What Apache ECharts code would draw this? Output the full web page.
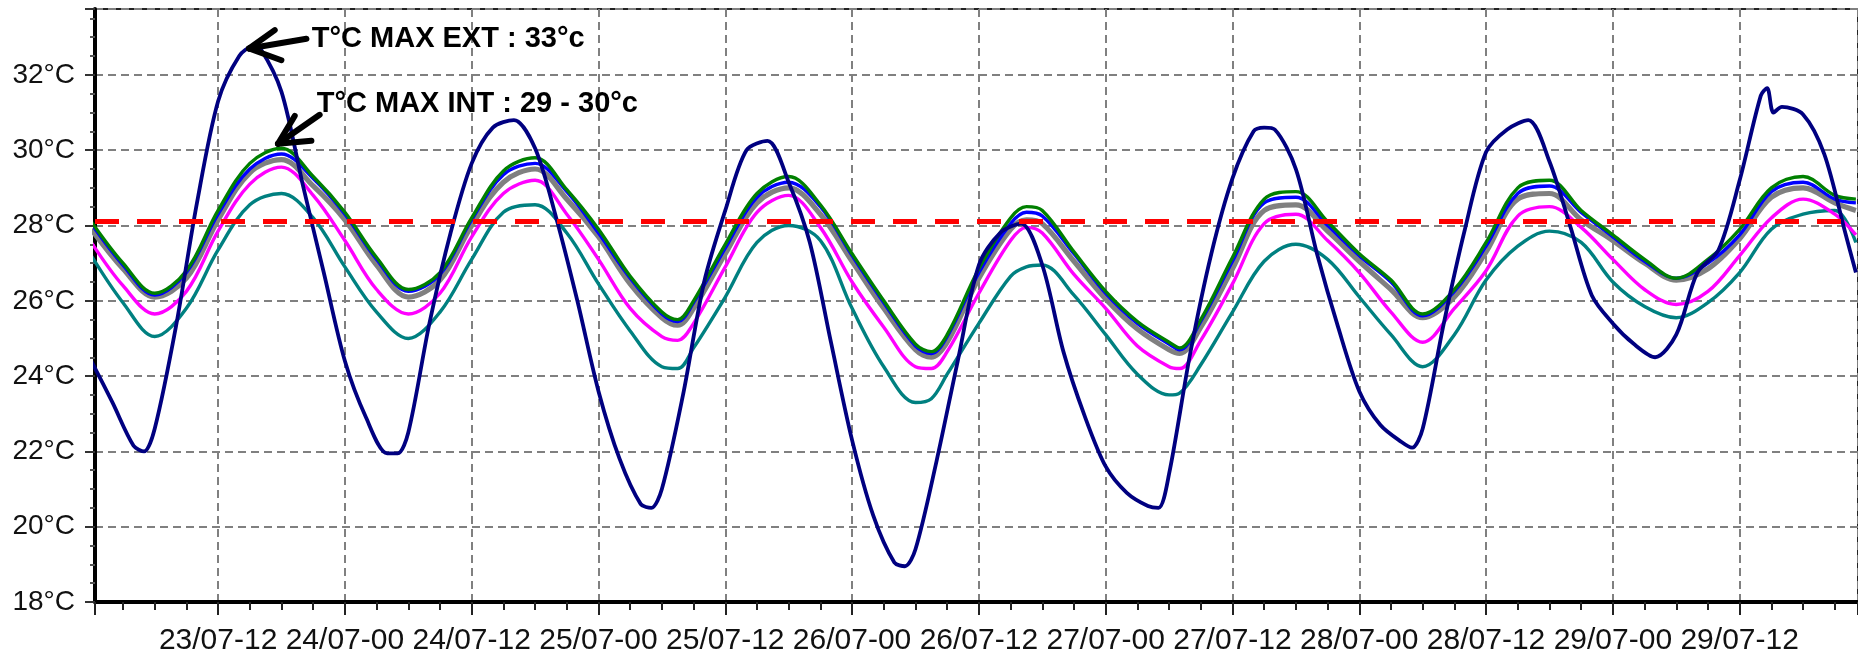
<!DOCTYPE html>
<html>
<head>
<meta charset="utf-8">
<script src="https://cdn.jsdelivr.net/npm/echarts@6/dist/echarts.min.js"></script>
<style>
html,body{margin:0;padding:0;background:#fff;}
#chart{width:1858px;height:658px;}
</style>
</head>
<body>
<div id="chart"></div>
<script>
// ---- tick labels ----
const xTickLabels = ['23/07-12','24/07-00','24/07-12','25/07-00','25/07-12','26/07-00','26/07-12',
  '27/07-00','27/07-12','28/07-00','28/07-12','29/07-00','29/07-12'];
const yUnit = '°C';

// ---- exterior temperature (hours since 23/07 00:00) ----
const extHours = [0,2,4,5,6,8,10,12,14,15.3,16,18,20,22,24,26,28,29,30,32,34,36,38,40,42,44,46,48,50,52,53,54,56,58,60,62,64,66,68,70,72,74,76,77,78,80,82,84,86,88,90,92,94,96,98,100,101,102,104,106,108,110,111,112,114,116,118,120,122,124,125,126,128,130,132,134,136,138,140,142,144,146,148,150,152,154,156,158,158.6,159.2,160,162,164,166,167];
const extTemp = [24.4,23.3,22.15,22.0,22.6,25.3,28.6,31.3,32.5,32.75,32.7,31.55,29.1,26.75,24.4,22.9,21.95,21.95,22.5,25.4,27.8,29.65,30.6,30.8,30.05,28.2,26.0,23.6,21.8,20.6,20.5,21.0,23.5,26.5,28.4,30.0,30.25,29.15,27.55,24.9,22.3,20.3,19.05,18.95,19.4,21.75,24.4,26.95,27.8,28.05,26.95,24.65,22.95,21.6,20.9,20.55,20.5,21.4,24.6,27.25,29.25,30.5,30.6,30.55,29.5,27.25,25.3,23.6,22.7,22.25,22.1,22.6,25.4,27.9,29.95,30.55,30.8,29.7,27.95,26.15,25.4,24.85,24.5,25.1,26.75,27.35,29.2,31.45,31.65,31.0,31.15,30.95,29.9,27.8,26.75];

// ---- interior sensors ----
const intHours = [0,3,6,9,12,15,18,21,24,27,30,33,36,39,42,45,48,51,54,55.5,57,60,63,66,69,72,75,78,79.5,81,84,87,88.5,90,93,96,99,102,103,105,108,111,114,117,120,123,126,129,132,135,138,141,144,147,150,153,156,159,162,165,167];
const greenTemp = [28.1,27.0,26.2,26.8,28.4,29.65,30.05,29.3,28.35,27.15,26.3,26.75,28.2,29.45,29.8,28.95,27.9,26.65,25.7,25.5,26.0,27.5,28.85,29.3,28.55,27.25,26.0,24.85,24.65,25.1,26.85,28.2,28.5,28.4,27.3,26.25,25.45,24.9,24.75,25.5,27.15,28.7,28.9,28.1,27.25,26.55,25.65,26.3,27.55,29.0,29.2,28.4,27.75,27.1,26.6,27.1,27.9,29.0,29.3,28.8,28.7];
const blueTemp = [28.05,26.95,26.15,26.75,28.3,29.5,29.9,29.25,28.3,27.1,26.25,26.7,28.15,29.35,29.65,28.9,27.8,26.6,25.65,25.45,25.95,27.4,28.75,29.15,28.5,27.2,25.95,24.8,24.6,25.05,26.75,28.05,28.35,28.25,27.25,26.2,25.4,24.85,24.7,25.45,27.05,28.6,28.75,28.0,27.2,26.5,25.6,26.25,27.45,28.85,29.05,28.35,27.7,27.05,26.6,27.0,27.75,28.9,29.15,28.7,28.6];
const grayTemp = [27.9,26.85,26.1,26.6,28.15,29.4,29.75,29.05,28.15,26.95,26.1,26.55,28.0,29.15,29.5,28.7,27.7,26.45,25.55,25.35,25.8,27.25,28.6,29.0,28.3,27.05,25.8,24.7,24.5,24.9,26.6,27.9,28.15,28.05,27.05,26.05,25.25,24.7,24.6,25.3,26.85,28.4,28.55,27.85,27.05,26.3,25.55,26.1,27.3,28.7,28.85,28.15,27.6,27.0,26.55,26.85,27.65,28.75,29.0,28.6,28.4];
const magentaTemp = [27.55,26.4,25.65,26.25,27.85,29.1,29.55,28.8,27.6,26.3,25.65,26.2,27.7,28.85,29.2,28.3,27.1,25.8,25.05,24.95,25.4,26.9,28.35,28.8,27.95,26.5,25.3,24.25,24.2,24.65,26.2,27.6,27.95,27.8,26.7,25.8,24.8,24.25,24.2,24.95,26.45,28.05,28.3,27.6,26.75,25.7,24.9,25.8,26.8,28.25,28.5,27.95,27.1,26.3,25.9,26.25,27.2,28.2,28.7,28.3,27.75];
const tealTemp = [27.2,25.95,25.05,25.8,27.35,28.55,28.85,28.2,26.9,25.7,25.0,25.7,27.1,28.35,28.55,27.8,26.45,25.2,24.25,24.2,24.75,26.1,27.55,28.0,27.6,25.8,24.25,23.3,23.4,24.05,25.4,26.65,26.9,26.95,26.15,25.1,24.05,23.5,23.55,24.3,25.7,27.05,27.5,27.1,26.1,25.1,24.25,25.1,26.55,27.45,27.85,27.55,26.5,25.85,25.55,25.95,26.75,27.9,28.3,28.4,27.55];

// ---- threshold and annotations ----
const thresholdTemp = 28.1;
const annotTexts = ['T°C MAX EXT : 33°c', 'T°C MAX INT : 29 - 30°c'];
const annotAnchors = [[20.86, 32.96], [21.33, 31.23]];
// arrows: [tail, tip, arm1, arm2]
const arrowExt = [[20.36, 32.96], [14.93, 32.70], [17.36, 33.19], [17.99, 32.39]];
const arrowInt = [[21.61, 30.94], [17.67, 30.17], [19.25, 30.91], [20.83, 30.25]];

const FONT = 'Liberation Sans, Arial, Helvetica, sans-serif';
const pairs = (hs, vs) => hs.map((h, i) => [h, vs[i]]);

function arrowSegments(a) {
  return [
    [{coord: a[0]}, {coord: a[1]}],
    [{coord: a[1]}, {coord: a[2]}],
    [{coord: a[1]}, {coord: a[3]}]
  ];
}

function lineSeries(name, data, color, width, smooth) {
  return {
    name, type: 'line', data, showSymbol: false, symbol: 'none',
    smooth, lineStyle: {color, width}, itemStyle: {color}, animation: false, silent: true
  };
}

const chart = echarts.init(document.getElementById('chart'), null, {renderer: 'canvas'});

const navy = lineSeries('Ext', pairs(extHours, extTemp), '#000080', 3.8, 0.3);
navy.markLine = {
  silent: true, animation: false, symbol: ['none', 'none'],
  label: {show: false},
  lineStyle: {color: '#000', width: 6, type: 'solid', cap: 'round'},
  emphasis: {disabled: true},
  data: [
    {yAxis: thresholdTemp, lineStyle: {color: '#ff0000', width: 5, type: [24, 18], cap: 'butt'}},
    ...arrowSegments(arrowExt),
    ...arrowSegments(arrowInt)
  ]
};
navy.markPoint = {
  silent: true, animation: false, symbol: 'circle', symbolSize: 0,
  label: {show: true, position: 'right', distance: 0, fontSize: 29, fontWeight: 'bold',
    color: '#000', fontFamily: FONT},
  data: annotTexts.map((t, i) => ({coord: annotAnchors[i], value: 0, label: {formatter: t}}))
};

const option = {
  animation: false,
  backgroundColor: '#fff',
  grid: {left: 95, right: -2, top: 9, bottom: 56, show: true, borderColor: '#222', borderWidth: 2,
    backgroundColor: 'transparent'},
  xAxis: {
    type: 'value', min: 0.35, max: 167.2, minInterval: 12, maxInterval: 12,
    axisLine: {show: true, onZero: false, lineStyle: {color: '#000', width: 4}},
    axisTick: {show: true, length: 13, lineStyle: {color: '#222', width: 2}},
    minorTick: {show: true, splitNumber: 4, length: 8, lineStyle: {color: '#222', width: 2}},
    minorSplitLine: {show: false},
    axisLabel: {
      show: true, margin: 24, fontSize: 30, color: '#111', fontFamily: FONT,
      showMinLabel: false, showMaxLabel: false,
      formatter: v => { const i = Math.round(v / 12) - 1; return xTickLabels[i] || ''; }
    },
    splitLine: {show: true, lineStyle: {color: '#808080', width: 2, type: [8, 5]}}
  },
  yAxis: {
    type: 'value', min: 18, max: 33.75, interval: 2,
    axisLine: {show: true, lineStyle: {color: '#000', width: 4}},
    axisTick: {show: true, length: 10, lineStyle: {color: '#333', width: 2}},
    minorTick: {show: true, splitNumber: 4, length: 5, lineStyle: {color: '#555', width: 2}},
    minorSplitLine: {show: false},
    axisLabel: {show: true, margin: 20, fontSize: 28, color: '#111', fontFamily: FONT,
      showMaxLabel: false, formatter: v => v + yUnit},
    splitLine: {show: true, lineStyle: {color: '#808080', width: 2, type: [8, 5]}}
  },
  series: [
    lineSeries('Int 5', pairs(intHours, tealTemp), '#008080', 3.4, 0.35),
    lineSeries('Int 4', pairs(intHours, magentaTemp), '#ff00ff', 3.4, 0.35),
    lineSeries('Int 3', pairs(intHours, grayTemp), '#808080', 5.2, 0.35),
    lineSeries('Int 2', pairs(intHours, blueTemp), '#0000ff', 3.4, 0.35),
    lineSeries('Int 1', pairs(intHours, greenTemp), '#008000', 3.4, 0.35),
    navy
  ]
};
chart.setOption(option);
</script>
</body>
</html>
